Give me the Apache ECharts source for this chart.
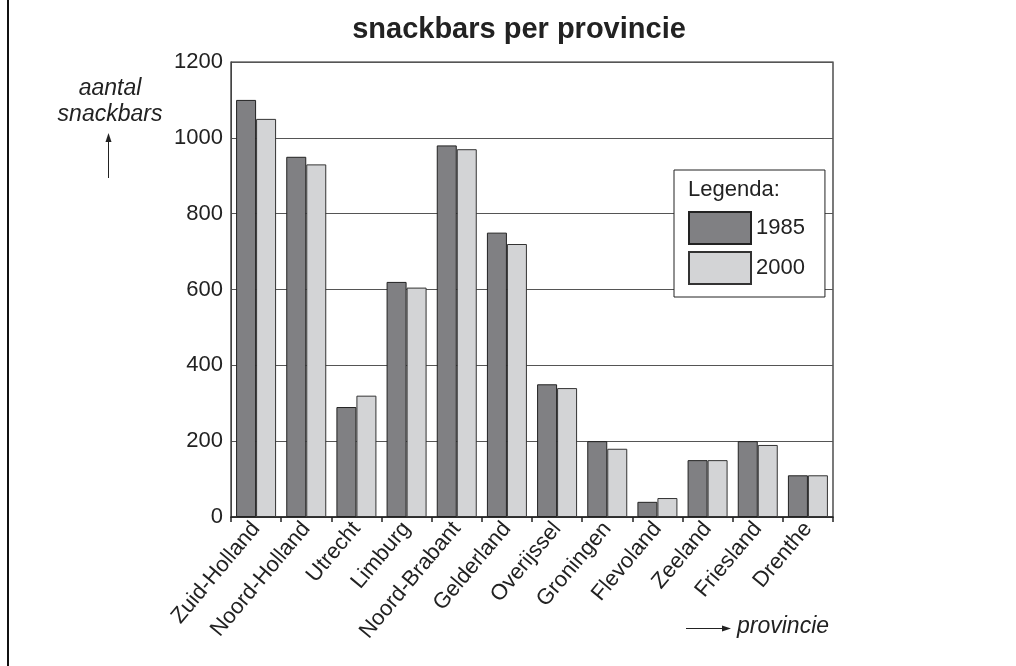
<!DOCTYPE html>
<html>
<head>
<meta charset="utf-8">
<script src="https://cdn.jsdelivr.net/npm/echarts@6/dist/echarts.min.js"></script>
<style>
html,body{margin:0;padding:0;background:#fff;}
#chart{width:1016px;height:666px;}
</style>
</head>
<body>
<div id="chart"></div>
<script>
var categories = ['Zuid-Holland','Noord-Holland','Utrecht','Limburg','Noord-Brabant','Gelderland','Overijssel','Groningen','Flevoland','Zeeland','Friesland','Drenthe'];
var values1985 = [1100, 950, 290, 620, 980, 750, 350, 200, 40, 150, 200, 110];
var values2000 = [1050, 930, 320, 605, 970, 720, 340, 180, 50, 150, 190, 110];
var yTicks = {min: 0, max: 1200, interval: 200};

var FONT = 'Arial, Helvetica, sans-serif';
var chart = echarts.init(document.getElementById('chart'));
chart.setOption({
  backgroundColor: '#fff',
  animation: false,
  textStyle: {fontFamily: FONT},
  title: {
    text: 'snackbars per provincie',
    left: 514,
    textAlign: 'center',
    top: 10,
    textStyle: {fontFamily: FONT, fontSize: 29, fontWeight: 'bold', color: '#222'}
  },
  grid: {left: 231, right: 183, top: 62, bottom: 149, show: true, borderColor: '#222', borderWidth: 1.2, backgroundColor: 'transparent'},
  legend: {
    data: ['1985', '2000'],
    orient: 'vertical',
    left: 674,
    top: 170,
    itemWidth: 62,
    itemHeight: 32,
    itemGap: 6,
    itemTextGap: 7,
    padding: [41, 20, 12, 14],
    borderColor: '#222',
    borderWidth: 1,
    backgroundColor: '#fff',
    icon: 'rect',
    textStyle: {fontFamily: FONT, fontSize: 22, color: '#222'}
  },
  xAxis: {
    type: 'category',
    data: categories,
    axisLine: {lineStyle: {color: '#222', width: 1.5}},
    axisTick: {show: true, length: 5, lineStyle: {color: '#222', width: 1.5}},
    axisLabel: {rotate: 50, fontSize: 22, color: '#222', margin: 8, interval: 0, fontFamily: FONT},
    splitLine: {show: false}
  },
  yAxis: {
    type: 'value',
    min: yTicks.min,
    max: yTicks.max,
    interval: yTicks.interval,
    axisLine: {show: true, lineStyle: {color: '#444', width: 1}},
    axisTick: {show: false},
    axisLabel: {fontSize: 22, color: '#222', margin: 8, fontFamily: FONT, formatter: function (v) { return String(v); }},
    splitLine: {lineStyle: {color: '#555', width: 1}}
  },
  series: [
    {
      name: '1985', type: 'bar', data: values1985, barWidth: 20, barGap: '0%',
      itemStyle: {color: '#808083', borderColor: '#222', borderWidth: 1}
    },
    {
      name: '2000', type: 'bar', data: values2000, barWidth: 20, barGap: '0%',
      itemStyle: {color: '#d3d4d6', borderColor: '#333', borderWidth: 1}
    }
  ],
  graphic: [
    {type: 'line', shape: {x1: 8, y1: 0, x2: 8, y2: 666}, style: {stroke: '#111', lineWidth: 2}},
    {type: 'text', left: 688, top: 179, z: 100, style: {text: 'Legenda:', font: '22px ' + FONT, fill: '#222'}},
    {type: 'text', x: 110, y: 77, style: {text: 'aantal', font: 'italic 23px ' + FONT, fill: '#222', textAlign: 'center'}},
    {type: 'text', x: 110, y: 103, style: {text: 'snackbars', font: 'italic 23px ' + FONT, fill: '#222', textAlign: 'center'}},
    {type: 'line', shape: {x1: 108.5, y1: 178, x2: 108.5, y2: 140}, style: {stroke: '#222', lineWidth: 1}},
    {type: 'polygon', shape: {points: [[108.5, 133], [105.5, 142], [111.5, 142]]}, style: {fill: '#222'}},
    {type: 'line', shape: {x1: 686, y1: 628.5, x2: 724, y2: 628.5}, style: {stroke: '#222', lineWidth: 1}},
    {type: 'polygon', shape: {points: [[731, 628.5], [722, 625.5], [722, 631.5]]}, style: {fill: '#222'}},
    {type: 'text', x: 737, y: 615, style: {text: 'provincie', font: 'italic 23px ' + FONT, fill: '#222'}}
  ]
});
</script>
</body>
</html>
